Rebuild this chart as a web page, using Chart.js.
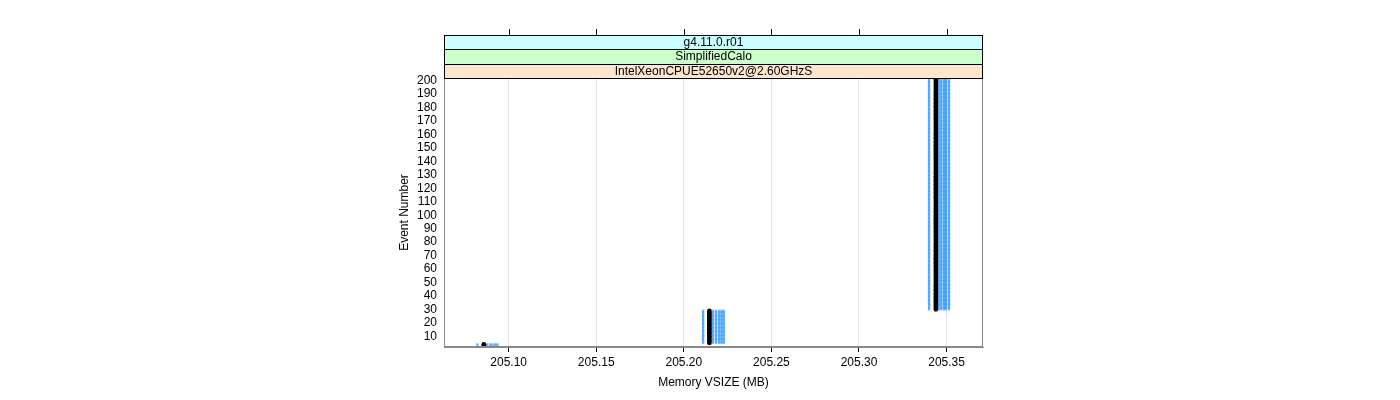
<!DOCTYPE html>
<html>
<head>
<meta charset="utf-8">
<script src="https://cdn.jsdelivr.net/npm/chart.js@4"></script>
<style>
  html, body { margin: 0; padding: 0; background: #fff; }
  #wrap { width: 1400px; height: 400px; }
</style>
</head>
<body>
<div id="wrap"><canvas id="c" width="1400" height="400"></canvas></div>
<script>
// ---- data ----
const stripLabels = ['g4.11.0.r01', 'SimplifiedCalo', 'IntelXeonCPUE52650v2@2.60GHzS'];
const stripColors = ['#ccffff', '#ccffcc', '#ffe5cc'];
const xTickValues = [205.10, 205.15, 205.20, 205.25, 205.30, 205.35];
const yTickValues = [10, 20, 30, 40, 50, 60, 70, 80, 90, 100, 110, 120, 130, 140, 150, 160, 170, 180, 190, 200];

// event ranges of the three memory plateaus
const eventStart = [1, 5, 30];
const eventEnd = [4, 29, 202];
// VSIZE of the black (main) series in each plateau
const blackVsize = [205.0858, 205.2146, 205.3439];
// VSIZE of the blue series in each plateau
const blueVsize = [
  [205.0822, 205.0858, 205.0876, 205.0893, 205.0907, 205.0922, 205.0935],
  [205.2110, 205.2146, 205.2167, 205.2184, 205.2201, 205.2215, 205.2228],
  [205.3400, 205.3439, 205.3458, 205.3471, 205.3486, 205.3497, 205.3514]
];

// ---- build point lists ----
const blackPts = [];
const bluePts = [];
for (let k = 0; k < eventStart.length; k++) {
  for (let e = eventStart[k]; e <= eventEnd[k]; e++) {
    blackPts.push({ x: blackVsize[k], y: e });
    for (const v of blueVsize[k]) bluePts.push({ x: v, y: e });
  }
}

const FONT = "'Liberation Sans', Arial, Helvetica, sans-serif";

const panelPlugin = {
  id: 'panel',
  afterDatasetsDraw(chart) {
    const { ctx, chartArea: a, scales } = chart;
    ctx.save();
    // panel border
    ctx.strokeStyle = '#888';
    ctx.lineWidth = 1;
    ctx.strokeRect(Math.round(a.left) + 0.5, Math.round(a.top) + 0.5,
                   Math.round(a.right - a.left) - 1, Math.round(a.bottom - a.top) - 1);
    // strips
    const h = 14.4;
    ctx.font = '12px ' + FONT;
    ctx.textAlign = 'center';
    ctx.textBaseline = 'middle';
    for (let i = 0; i < stripLabels.length; i++) {
      const y0 = a.top - h * (stripLabels.length - i);
      const yy = Math.round(y0);
      const hh = Math.round(y0 + h) - yy;
      ctx.fillStyle = stripColors[i];
      ctx.fillRect(a.left, yy, a.right - a.left, hh);
      ctx.strokeStyle = '#000';
      ctx.strokeRect(Math.round(a.left) + 0.5, yy + 0.5, Math.round(a.right - a.left) - 1, hh);
      ctx.fillStyle = '#000';
      ctx.fillText(stripLabels[i], (a.left + a.right) / 2, yy + hh / 2 + 0.5);
    }
    // top tick marks
    const topY = Math.round(a.top - h * stripLabels.length);
    ctx.strokeStyle = '#000';
    ctx.beginPath();
    for (const v of xTickValues) {
      const x = Math.round(scales.x.getPixelForValue(v)) + 0.5;
      ctx.moveTo(x, topY);
      ctx.lineTo(x, topY - 6);
    }
    ctx.stroke();
    ctx.restore();
  }
};

new Chart(document.getElementById('c'), {
  type: 'scatter',
  data: {
    datasets: [
      {
        label: 'main',
        data: blackPts,
        order: 0,
        pointStyle: 'circle',
        pointRadius: 2.3,
        pointBorderWidth: 0,
        backgroundColor: '#000',
        borderColor: '#000',
        clip: 0
      },
      {
        label: 'other',
        data: bluePts,
        order: 1,
        pointStyle: 'rect',
        pointRadius: 1.6,
        pointBorderWidth: 0,
        backgroundColor: 'rgba(0,128,255,0.5)',
        borderColor: 'rgba(0,0,0,0)',
        clip: 0
      }
    ]
  },
  plugins: [panelPlugin],
  options: {
    responsive: false,
    animation: false,
    events: [],
    layout: { padding: { left: 393, right: 417, top: 78, bottom: 10 } },
    plugins: { legend: { display: false }, tooltip: { enabled: false } },
    scales: {
      x: {
        type: 'linear',
        min: 205.0631,
        max: 205.3708,
        afterFit(s) { s.height = 43; },
        afterBuildTicks(s) { s.ticks = xTickValues.map(v => ({ value: v })); },
        grid: {
          display: true,
          drawOnChartArea: true,
          color: '#e6e6e6',
          tickColor: '#000',
          tickLength: 5,
          lineWidth: 1
        },
        border: { display: true, color: '#888' },
        ticks: {
          color: '#000',
          font: { family: FONT, size: 12 },
          padding: 3,
          maxRotation: 0,
          autoSkip: false,
          callback: v => Number(v).toFixed(2)
        },
        title: {
          display: true,
          text: 'Memory VSIZE (MB)',
          color: '#000',
          font: { family: FONT, size: 12 },
          padding: { top: 6, bottom: 0 }
        }
      },
      y: {
        type: 'linear',
        min: 2,
        max: 202,
        afterFit(s) { s.width = 51; },
        afterBuildTicks(s) { s.ticks = yTickValues.map(v => ({ value: v })); },
        grid: { display: true, drawOnChartArea: false, drawTicks: false },
        border: { display: true, color: '#888' },
        ticks: {
          color: '#000',
          font: { family: FONT, size: 12 },
          padding: 7,
          autoSkip: false
        },
        title: {
          display: true,
          text: 'Event Number',
          color: '#000',
          font: { family: FONT, size: 12 },
          padding: { top: 4, bottom: 0 }
        }
      }
    }
  }
});
</script>
</body>
</html>
